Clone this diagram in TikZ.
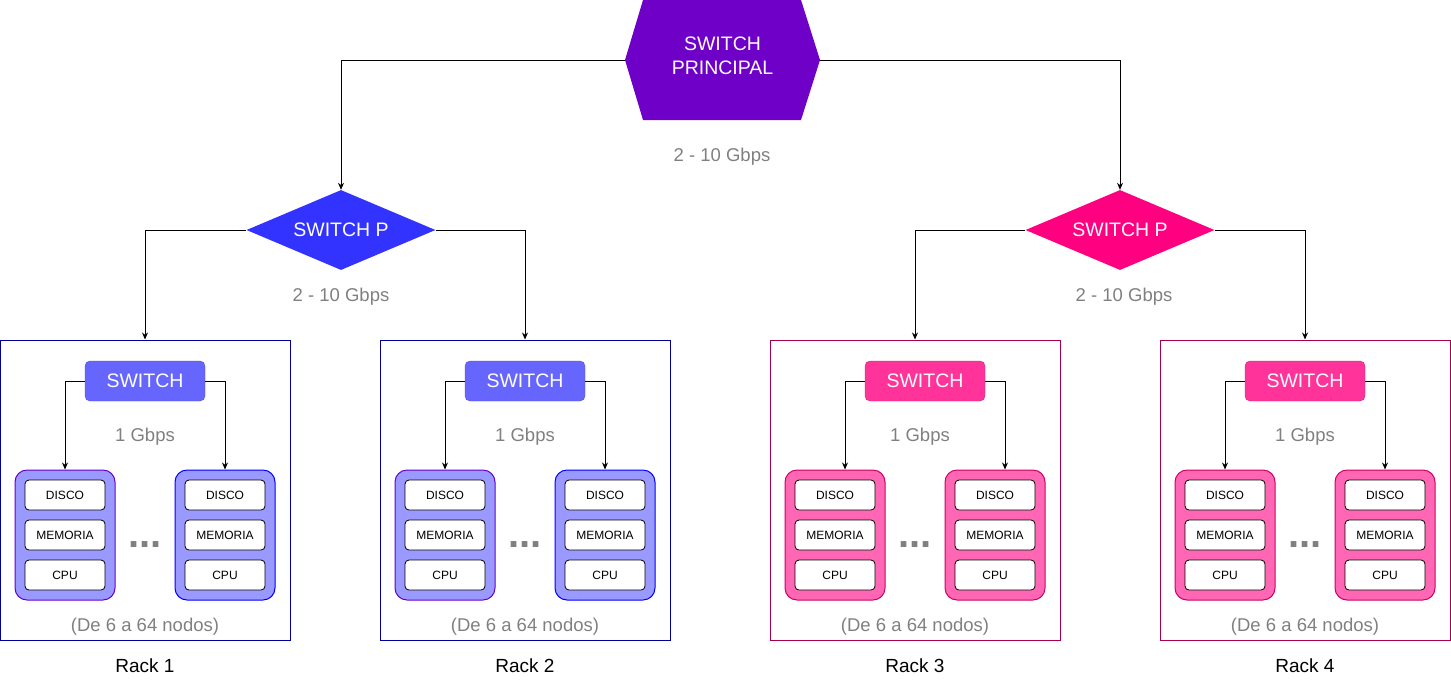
\documentclass[tikz,border=0pt]{standalone}
\usepackage{fontspec}
\setmainfont{Liberation Sans}
\usetikzlibrary{shapes.geometric,arrows.meta}

\definecolor{mainsw}{HTML}{6F00C8}
\definecolor{pblue}{HTML}{3333FF}
\definecolor{ppink}{HTML}{FF0080}
\definecolor{swblue}{HTML}{6666FF}
\definecolor{swpink}{HTML}{FF3399}
\definecolor{cardblue}{HTML}{9999FF}
\definecolor{cardpink}{HTML}{FF66B3}
\definecolor{rackblue}{HTML}{000099}
\definecolor{rackpink}{HTML}{A50050}
\definecolor{edgeviolet}{HTML}{6600CC}
\definecolor{edgeblue}{HTML}{0000FF}
\definecolor{edgepink}{HTML}{CC0066}
\definecolor{lblgray}{HTML}{808080}

\tikzset{
	conn/.style={draw, line width=0.9pt, -{Stealth[length=7pt,width=6pt]}},
	bigtxt/.style={text=white, font=\fontsize{19.5}{24}\selectfont},
	speed/.style={text=lblgray, font=\fontsize{18.5}{20}\selectfont},
	rackbox/.style={draw=#1, line width=1pt, minimum width=290, minimum height=300, inner sep=0},
	switchbox/.style={draw=#1!80!black, fill=#1, rounded corners=5pt, minimum width=120, minimum height=40, inner sep=0, bigtxt},
	nodecard/.style={line width=1pt, rounded corners=12pt, minimum width=100, minimum height=130, inner sep=0},
	partbox/.style={draw, line width=0.8pt, fill=white, rounded corners=4pt, minimum width=80, minimum height=30, inner sep=0, font=\fontsize{12}{14}\selectfont},
	pswitch/.style={diamond, fill=#1, aspect=2.36, minimum width=189, minimum height=80, inner sep=0, bigtxt},
}

\begin{document}
\begin{tikzpicture}[x=1pt, y=-1pt]
		\useasboundingbox (0,0) rectangle (1451,681);
		
		\fill[mainsw] (625,60) -- (643,0) -- (801,0) -- (820,60) -- (801,120) -- (643,120) -- cycle;
		\node[bigtxt, align=center, minimum width=195, minimum height=120, inner sep=0] (main) at (722.5,60) {};
		\node[bigtxt, align=center] (maintxt) at (722.5,56) {SWITCH\\PRINCIPAL};
		\node[speed] (smain) at (722,157) {2 - 10 Gbps};
		
		\node[pswitch=pblue] (pl) at (341,230) {SWITCH P};
		\node[pswitch=ppink] (pr) at (1120,230) {SWITCH P};
		\node[speed] (spl) at (341,297) {2 - 10 Gbps};
		\node[speed] (spr) at (1124,297) {2 - 10 Gbps};
		
		\draw[conn] (main.west) -| (pl.north);
		\draw[conn] (main.east) -| (pr.north);
		
		\foreach \i\ox\sx\rk\sw\cd\lb\rb in {1/0/0/rackblue/swblue/cardblue/edgeviolet/edgeblue,
			2/380/0/rackblue/swblue/cardblue/edgeviolet/edgeblue,
			3/770/10/rackpink/swpink/cardpink/edgepink/edgepink,
			4/1160/0/rackpink/swpink/cardpink/edgepink/edgepink}
		{
			\node[rackbox=\rk] (rack\i) at (145+\ox,490) {};
			\node[switchbox=\sw] (sw\i) at (145+\ox+\sx,381) {SWITCH};
			\node[speed] (gb\i) at (145+\ox+\sx/2,437) {1 Gbps};
			\node[nodecard, draw=\lb, fill=\cd] (cardl\i) at (65+\ox,535) {};
			\node[nodecard, draw=\rb, fill=\cd] (cardr\i) at (225+\ox,535) {};
			\foreach \p\t\y in {disco/DISCO/495, mem/MEMORIA/535, cpu/CPU/575} {
				\node[partbox] (\p-l\i) at (65+\ox,\y) {\t};
				\node[partbox] (\p-r\i) at (225+\ox,\y) {\t};
			}
			\node[text=lblgray, font=\fontsize{40}{40}\bfseries] (dots\i) at (145+\ox,545) {...};
			\node[speed] (nn\i) at (145+\ox,627) {(De 6 a 64 nodos)};
			\node[font=\fontsize{19}{20}\selectfont] (rl\i) at (145+\ox,666) {Rack \i};
			\draw[conn] (sw\i.west) -| ([xshift=\sx]cardl\i.north);
			\draw[conn] (sw\i.east) -| ([xshift=\sx]cardr\i.north);
		}
		
		\draw[conn] (pl.west) -| (rack1.north);
		\draw[conn] (pl.east) -| (rack2.north);
		\draw[conn] (pr.west) -| (rack3.north);
		\draw[conn] (pr.east) -| (rack4.north);
	\end{tikzpicture}
\end{document}
